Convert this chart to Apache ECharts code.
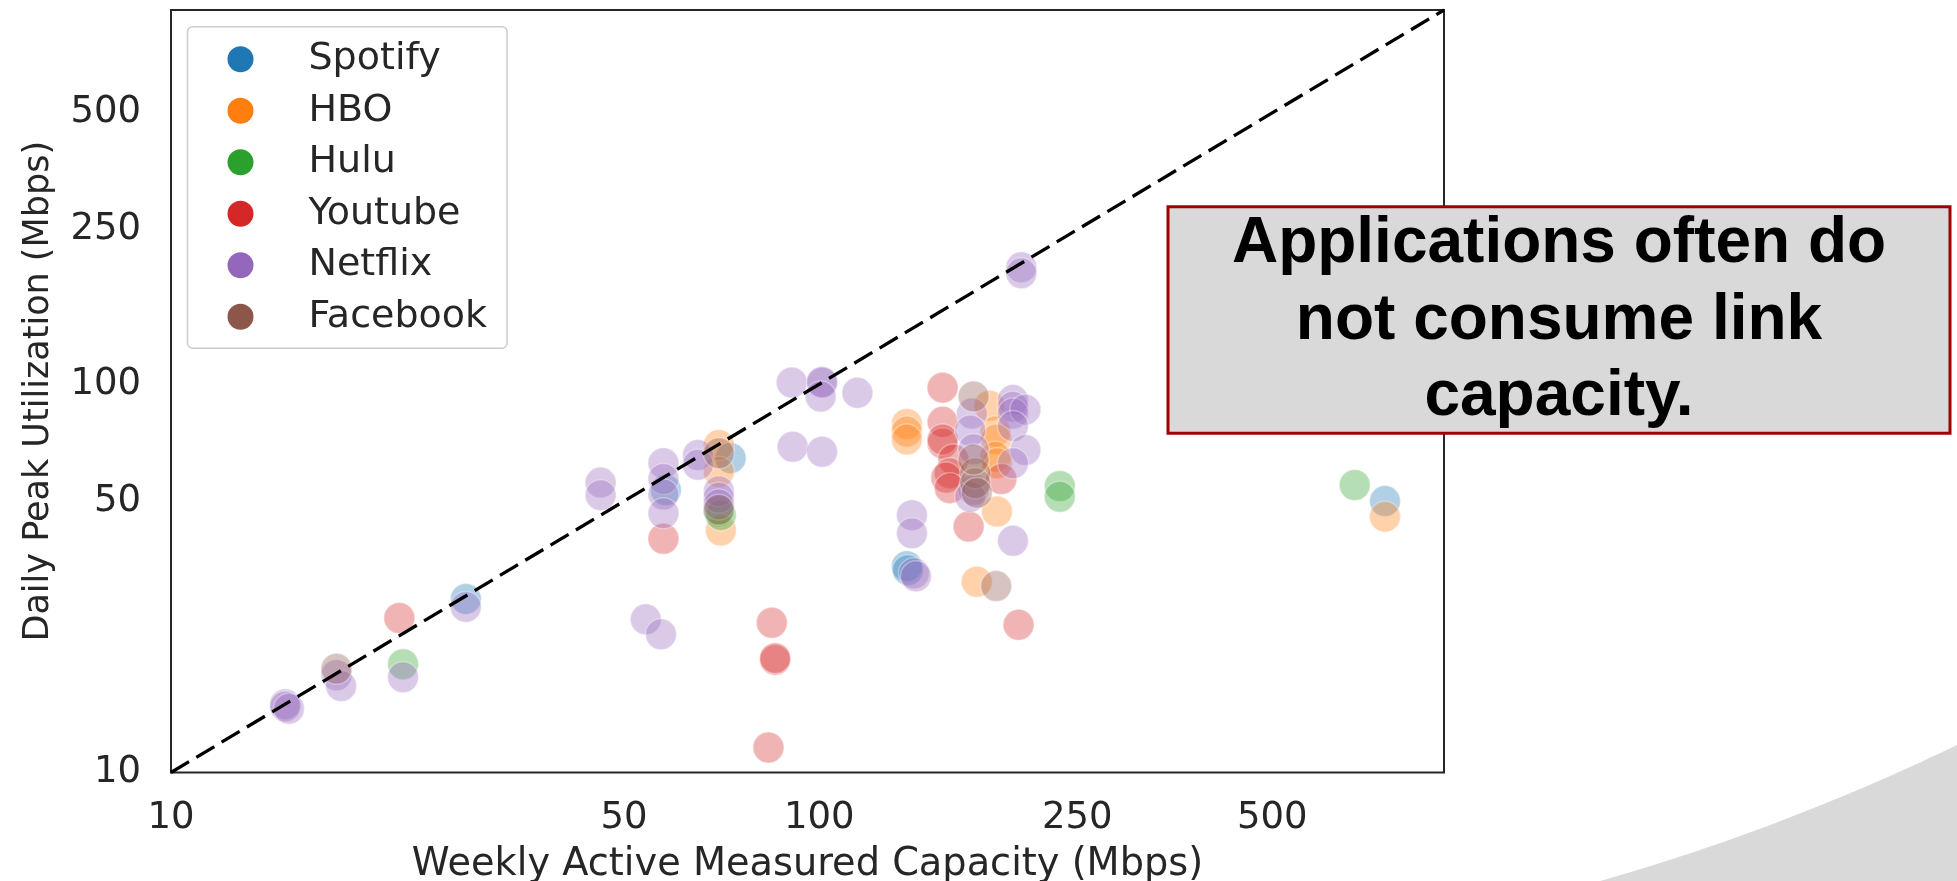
<!DOCTYPE html>
<html><head><meta charset="utf-8">
<script src="https://cdn.jsdelivr.net/npm/echarts@6/dist/echarts.min.js"></script>
<style>html,body{margin:0;padding:0;background:#fff}#c{width:1957px;height:881px}</style>
</head><body><div id="c"></div>
<script>
// ---- data (Weekly Active Measured Capacity, Daily Peak Utilization), Mbps ----
const apps = ['Spotify', 'HBO', 'Hulu', 'Youtube', 'Netflix', 'Facebook'];
const colors = ['#1f77b4', '#ff7f0e', '#2ca02c', '#d62728', '#9467bd', '#8c564b'];

const spotify = [[28.5, 28], [58, 53.4], [73, 64.5], [136.5, 34], [137, 33.2], [746, 50]];
const hbo = [[70, 69.7], [70, 59.5], [70.5, 42], [136.5, 79], [136.5, 75.5], [136.5, 72],
  [183, 88], [187, 75.5], [187.5, 72], [187, 65], [188, 62.6], [188, 47], [175, 31], [746, 45.6]];
const hulu = [[22.8, 19], [70, 47], [70.5, 46], [235, 54.7], [235, 51.3], [670, 55]];
const youtube = [[22.5, 25], [57.5, 40], [84.5, 24.3], [85.5, 19.5], [85.5, 19.7], [83.5, 11.6],
  [155, 98], [155, 80], [155, 70.4], [155, 72], [161, 64], [159, 59], [157, 57.5], [159, 54],
  [191, 57], [170, 43], [203, 24]];
const netflix = [[15, 15], [15, 14.8], [15.2, 14.6], [18, 17.8], [18.3, 16.7], [22.8, 17.6],
  [28.5, 26.7], [54, 24.8], [57, 22.7], [46, 55.8], [46, 51.8], [57.5, 62.6], [57.5, 57],
  [57.5, 52], [57.5, 46.5], [65, 65.7], [65, 62], [70, 53], [70, 51], [70, 49],
  [90.7, 101], [101, 101.5], [101, 101], [100.5, 93], [114.5, 95], [91, 69], [101, 67],
  [172, 84], [171, 76], [173, 68], [173, 53.4], [171, 51.3], [199, 91], [199, 87.5], [199, 84],
  [208, 86], [199, 78], [208, 67.7], [199, 62.6], [139, 46], [139, 41.3], [140, 32.6], [141, 32],
  [199, 39.5], [205, 200], [205, 193]];
const facebook = [[18, 18.5], [70, 66.4], [70, 47.5], [173, 93], [174, 59], [174, 55.6],
  [175, 52.5], [173, 64], [187.5, 30.2]];

const tickValues = [10, 50, 100, 250, 500];
const axisMin = 10, axisMax = 920;
const diagonal = [[10, 10], [920, 920]];
const xTitle = 'Weekly Active Measured Capacity (Mbps)';
const yTitle = 'Daily Peak Utilization (Mbps)';
const note = 'Applications often do\nnot consume link\ncapacity.';

const seriesData = [spotify, hbo, hulu, youtube, netflix, facebook];
const textColor = '#262626';
const font = 'DejaVu Sans';

// decorative slide swoosh (quadratic curve outline)
const swoosh = [];
for (let i = 0; i <= 40; i++) {
  const t = i / 40, u = 1 - t;
  swoosh.push([u * u * 1600 + 2 * u * t * 1780 + t * t * 1957, u * u * 881 + 2 * u * t * 830 + t * t * 745]);
}
swoosh.push([1957, 881]);

const chart = echarts.init(document.getElementById('c'), null, {renderer: 'canvas'});
const scatterSeries = apps.map((name, i) => ({
  name, type: 'scatter', data: seriesData[i], symbolSize: 31,
  itemStyle: {color: colors[i], opacity: 0.35, borderColor: '#ffffff', borderWidth: 1.5},
  emphasis: {disabled: true}
}));

chart.setOption({
  animation: false,
  backgroundColor: '#ffffff',
  grid: {left: 171, right: 513, top: 10, bottom: 108.5, show: true, outerBoundsMode: 'none',
    containLabel: false,
    borderColor: textColor, borderWidth: 2, backgroundColor: 'transparent'},
  legend: {
    data: apps, orient: 'vertical', left: 187.5, top: 26.7,
    padding: [13.6, 20, 12.5, 40], itemWidth: 26, itemHeight: 26, itemGap: 13.5,
    icon: 'circle', backgroundColor: '#ffffff', borderColor: '#cccccc', borderWidth: 1.5,
    borderRadius: 5,
    itemStyle: {opacity: 1, borderWidth: 0},
    textStyle: {color: textColor, fontFamily: font, fontSize: 38, lineHeight: 38, padding: [0, 0, 0, 50]}
  },
  xAxis: {
    type: 'log', logBase: 10, min: axisMin, max: axisMax,
    name: xTitle, nameLocation: 'middle', nameGap: 74,
    nameTextStyle: {color: textColor, fontFamily: font, fontSize: 38.3},
    axisLine: {show: false}, axisTick: {show: false}, splitLine: {show: false},
    axisLabel: {customValues: tickValues, color: textColor, fontFamily: font, fontSize: 37, margin: 27}
  },
  yAxis: {
    type: 'log', logBase: 10, min: axisMin, max: axisMax,
    name: yTitle, nameLocation: 'middle', nameGap: 115,
    nameTextStyle: {color: textColor, fontFamily: font, fontSize: 35},
    axisLine: {show: false}, axisTick: {show: false}, splitLine: {show: false},
    axisLabel: {customValues: tickValues, color: textColor, fontFamily: font, fontSize: 37, margin: 30}
  },
  series: scatterSeries.concat([{
    name: 'diagonal', type: 'line', data: diagonal, symbol: 'none', silent: true,
    lineStyle: {color: '#000000', width: 3.3, type: [21, 8.5]}, z: 5
  }]),
  graphic: [
    {type: 'polygon', z: 1, shape: {points: swoosh}, style: {fill: '#d9d9d9'}},
    {type: 'rect', z: 100, shape: {x: 1168, y: 206.7, width: 782, height: 226.6},
      style: {fill: '#d9d9d9', stroke: '#a00000', lineWidth: 3}},
    {type: 'text', z: 101, x: 1559, y: 321,
      style: {text: note, fill: '#000000', font: 'bold 64px "Liberation Sans"',
        lineHeight: 76.5, align: 'center', verticalAlign: 'middle'}}
  ]
});
</script></body></html>
